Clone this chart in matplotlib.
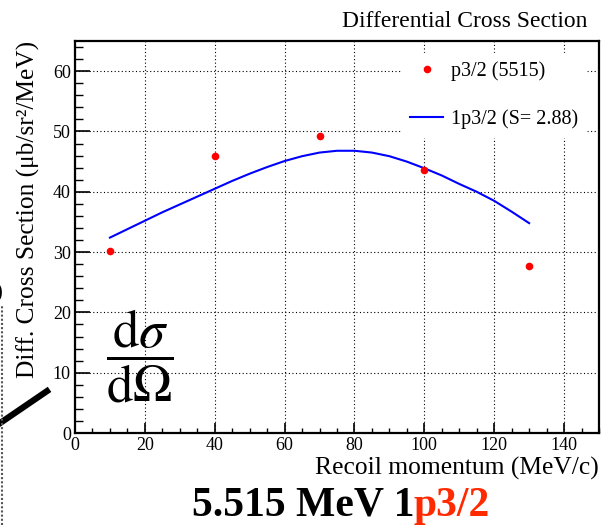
import numpy as np
import matplotlib
matplotlib.use("Agg")
from matplotlib import pyplot as plt
from matplotlib.lines import Line2D
from matplotlib.ticker import MultipleLocator

plt.rcParams['font.family'] = ['Liberation Serif', 'DejaVu Serif']
plt.rcParams['mathtext.fontset'] = 'stix'

# measured points p3/2 (5515)
pts_x = [10, 40, 70, 100, 130]
pts_y = [30.2, 46.0, 49.3, 43.6, 27.7]

# DWIA calculation 1p3/2, S = 2.88
curve_x = [10, 15, 20, 25, 30, 35, 40, 45, 50, 55, 60, 65, 70,
           75, 80, 85, 90, 95, 100, 105, 110, 115, 120, 125, 130]
curve_y = [32.4, 33.8, 35.2, 36.6, 37.9, 39.2, 40.5, 41.8, 43.0, 44.1, 45.1, 45.9, 46.5,
           46.8, 46.8, 46.5, 45.9, 45.0, 43.9, 42.7, 41.3, 40.0, 38.5, 36.7, 34.8]

fig = plt.figure(figsize=(6.02, 5.25), dpi=100)
ax = fig.add_axes([0.1246, 0.1752, 0.8704, 0.7467])

ax.plot(pts_x, pts_y, 'o', color='#ff0000', ms=5.5, mec='none',
        label='p3/2 (5515)', zorder=4)
ax.plot(curve_x, curve_y, '-', color='#0000ff', lw=1.5,
        label='1p3/2 (S= 2.88)', zorder=3)

ax.set_xlim(0, 150)
ax.set_ylim(0, 65)
ax.xaxis.set_major_locator(MultipleLocator(20))
ax.xaxis.set_minor_locator(MultipleLocator(5))
ax.yaxis.set_major_locator(MultipleLocator(10))
ax.yaxis.set_minor_locator(MultipleLocator(2))
ax.tick_params(axis='both', which='both', direction='in', labelsize=13)
ax.tick_params(axis='y', which='major', length=10.5, width=1.2, pad=3)
ax.tick_params(axis='y', which='minor', length=5.5, width=1)
ax.tick_params(axis='x', which='major', length=7, width=1.2, pad=3)
ax.tick_params(axis='x', which='minor', length=3.5, width=1)
for s in ax.spines.values():
    s.set_linewidth(1.6)

ax.grid(True, which='major', color='black', lw=0.8, linestyle=(0, (1, 2.2)))
ax.set_axisbelow(True)

ax.set_xlabel('Recoil momentum (MeV/c)', fontsize=18.4, ha='right', va='baseline')
ax.xaxis.set_label_coords(1.0, -0.107)
ax.set_ylabel('Diff. Cross Section (\u03bcb/sr\u00b2/MeV)', fontsize=18.3, ha='right')
ax.yaxis.set_label_coords(-0.066, 1.0)

leg = ax.legend(loc='upper left', bbox_to_anchor=(0.624, 0.97), borderaxespad=0,
                fontsize=14.5, handlelength=1.65, handletextpad=0.4,
                labelspacing=1.42, borderpad=0.4, frameon=True, fancybox=False,
                facecolor='white', edgecolor='white', framealpha=1)

ax.text(0.124, 0.195, r'$\dfrac{\mathrm{d}\sigma}{\mathrm{d}\Omega}$',
        transform=ax.transAxes, fontsize=38, ha='center', va='center')

fig.text(587 / 602, 1 - 27 / 525, 'Differential Cross Section',
         fontsize=16.9, ha='right', va='baseline')

fig.text(414 / 602, 9 / 525, '5.515 MeV 1', fontsize=30, fontweight='bold',
         ha='right', va='baseline')
fig.text(414 / 602, 9 / 525, 'p3/2', fontsize=30, fontweight='bold',
         color='#ff2a00', ha='left', va='baseline')

# bits of the neighbouring slide panel on the left
fig.add_artist(Line2D([0.0, 0.078], [0.194, 0.255], color='black', lw=4.5,
                      transform=fig.transFigure))
fig.add_artist(Line2D([0.003, 0.003], [0.0, 0.419], color='#555555', lw=1.5,
                      linestyle=(0, (1, 1)), transform=fig.transFigure))
fig.text(0.004, 1 - 292 / 525, ')', fontsize=17, ha='right', va='center')

fig.savefig('out.png', dpi=100)
